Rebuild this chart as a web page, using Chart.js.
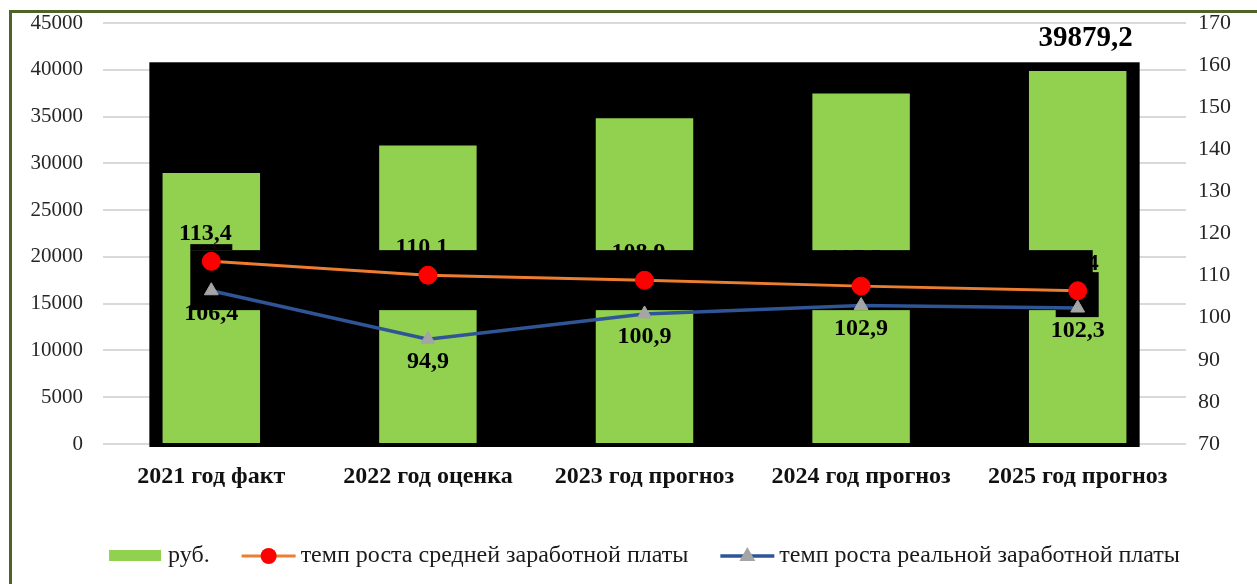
<!DOCTYPE html>
<html>
<head>
<meta charset="utf-8">
<script src="https://cdn.jsdelivr.net/npm/chart.js@4.4.0/dist/chart.umd.min.js"></script>
<style>
  html, body { margin: 0; padding: 0; background: #fff; }
  #wrap { position: relative; width: 1257px; height: 584px; }
</style>
</head>
<body>
<div id="wrap"><canvas id="salaryChart"></canvas></div>
<script>
// data
const categories = ['2021 год факт', '2022 год оценка', '2023 год прогноз', '2024 год прогноз', '2025 год прогноз'];
const salaryRub = [28978, 31905, 34820, 37460, 39879.2];
const avgGrowth = [113.4, 110.1, 108.9, 107.5, 106.4];
const realGrowth = [106.4, 94.9, 100.9, 102.9, 102.3];
const seriesNames = ['руб.', 'темп роста средней заработной платы', 'темп роста реальной заработной платы'];
const rubTicks = [0, 45000, 5000];   // min, max, step
const rateTicks = [70, 170, 10];

const FONT = "'Liberation Serif', 'Times New Roman', serif";
const fmt = v => String(v).replace('.', ',');

// green frame round the whole picture
const framePlugin = {
    id: 'frame',
    beforeDraw(chart) {
        const ctx = chart.ctx;
        ctx.save();
        ctx.strokeStyle = '#4f6228';
        ctx.lineWidth = 3;
        ctx.strokeRect(10.5, 11.5, chart.width + 20, chart.height + 20);
        ctx.restore();
    }
};

// black backdrop and masks that sit over the plot
const maskPlugin = {
    id: 'masks',
    beforeDatasetsDraw(chart) {
        const { ctx, chartArea } = chart;
        const x = chart.scales.x, y = chart.scales.y;
        const cw = x.getPixelForValue(1) - x.getPixelForValue(0);
        const left = x.getPixelForValue(0) - cw * 0.286;
        const right = x.getPixelForValue(4) + cw * 0.286;
        const top = y.getPixelForValue(40800);
        ctx.save();
        ctx.fillStyle = '#000';
        ctx.fillRect(left, top, right - left, chartArea.bottom + 3 - top);
        ctx.restore();
    },
    afterDatasetDraw(chart, args) {
        if (args.index !== 0) return;
        const ctx = chart.ctx;
        const x = chart.scales.x, y = chart.scales.y;
        const x0 = x.getPixelForValue(0), x4 = x.getPixelForValue(4);
        const yTop = y.getPixelForValue(20720), yBot = y.getPixelForValue(14310);
        ctx.save();
        ctx.fillStyle = '#000';
        ctx.fillRect(x0 - 21, yTop, (x4 + 15) - (x0 - 21), yBot - yTop);
        ctx.fillRect(x0 - 21, yTop - 6, 42, 6);
        ctx.fillRect(x4 - 22, yTop + 22, 43, yBot - yTop - 15);
        ctx.restore();
    }
};

// value labels
const labelPlugin = {
    id: 'valueLabels',
    afterDatasetsDraw(chart) {
        const ctx = chart.ctx;
        ctx.save();
        ctx.fillStyle = '#000';
        ctx.textAlign = 'center';
        ctx.textBaseline = 'middle';
        // only the last bar value can be seen
        const bars = chart.getDatasetMeta(0).data;
        const last = bars.length - 1;
        ctx.font = 'bold 29px ' + FONT;
        ctx.fillText(fmt(salaryRub[last]), bars[last].x + 8, bars[last].y - 32);

        ctx.font = 'bold 24px ' + FONT;
        chart.getDatasetMeta(1).data.forEach((p, i) => {
            ctx.fillText(fmt(avgGrowth[i]), p.x - 6, p.y - 27);
        });
        chart.getDatasetMeta(2).data.forEach((p, i) => {
            ctx.fillText(fmt(realGrowth[i]), p.x, p.y + 23);
        });
        ctx.restore();
    }
};

// legend drawn under the axis labels
const legendPlugin = {
    id: 'bottomLegend',
    afterDraw(chart) {
        const { ctx, chartArea } = chart;
        ctx.save();
        ctx.font = '24px ' + FONT;
        ctx.textBaseline = 'middle';
        const sw = 54, gapText = 5, gapItem = 32;
        const widths = seriesNames.map(n => ctx.measureText(n).width);
        let total = 0;
        widths.forEach((w, i) => { total += sw + gapText + w + (i < widths.length - 1 ? gapItem : 0); });
        let cx = (chartArea.left + chartArea.right) / 2 - total / 2;
        const cy = 556;
        seriesNames.forEach((name, i) => {
            if (i === 0) {
                ctx.fillStyle = '#92d050';
                ctx.fillRect(cx, cy - 6, sw - 2, 11);
            } else {
                const ds = chart.data.datasets[i];
                ctx.strokeStyle = ds.borderColor;
                ctx.lineWidth = ds.borderWidth;
                ctx.beginPath();
                ctx.moveTo(cx, cy);
                ctx.lineTo(cx + sw, cy);
                ctx.stroke();
                ctx.fillStyle = ds.pointBackgroundColor;
                ctx.beginPath();
                if (i === 1) {
                    ctx.arc(cx + sw / 2, cy, 8, 0, Math.PI * 2);
                } else {
                    ctx.moveTo(cx + sw / 2, cy - 9);
                    ctx.lineTo(cx + sw / 2 + 8, cy + 5);
                    ctx.lineTo(cx + sw / 2 - 8, cy + 5);
                    ctx.closePath();
                }
                ctx.fill();
            }
            cx += sw + gapText;
            ctx.fillStyle = '#1a1a1a';
            ctx.fillText(name, cx, cy);
            cx += widths[i] + gapItem;
        });
        ctx.restore();
    }
};

const ctx = document.getElementById('salaryChart').getContext('2d');
new Chart(ctx, {
    type: 'bar',
    data: {
        labels: categories,
        datasets: [{
            type: 'bar',
            label: seriesNames[0],
            data: salaryRub,
            backgroundColor: '#92d050',
            borderWidth: 0,
            barPercentage: 0.45,
            categoryPercentage: 1,
            yAxisID: 'y',
            order: 3
        }, {
            type: 'line',
            label: seriesNames[1],
            data: avgGrowth,
            borderColor: '#ed7d31',
            borderWidth: 3,
            pointRadius: 9,
            pointBackgroundColor: '#ff0000',
            pointBorderColor: '#ff0000',
            pointBorderWidth: 1,
            tension: 0,
            yAxisID: 'y1',
            order: 1
        }, {
            type: 'line',
            label: seriesNames[2],
            data: realGrowth,
            borderColor: '#2f5597',
            borderWidth: 3.5,
            pointStyle: 'triangle',
            pointRadius: 8,
            pointBackgroundColor: '#a5a5a5',
            pointBorderColor: '#a5a5a5',
            pointBorderWidth: 1,
            tension: 0,
            yAxisID: 'y1',
            order: 2
        }]
    },
    options: {
        responsive: true,
        maintainAspectRatio: false,
        animation: false,
        layout: { padding: { top: 23, left: 0, right: 0, bottom: 0 } },
        plugins: {
            legend: { display: false },
            tooltip: { enabled: false }
        },
        scales: {
            x: {
                grid: { display: false },
                border: { display: false },
                ticks: {
                    color: '#111',
                    padding: 10,
                    maxRotation: 0,
                    font: { family: FONT, size: 24, weight: 'bold' }
                },
                afterFit: s => { s.height = 140; }
            },
            y: {
                position: 'left',
                min: rubTicks[0],
                max: rubTicks[1],
                ticks: {
                    stepSize: rubTicks[2],
                    color: '#262626',
                    padding: 20,
                    font: { family: FONT, size: 21 },
                    callback: v => String(v)
                },
                grid: { color: '#d9d9d9', lineWidth: 2, drawTicks: false },
                border: { display: false },
                afterFit: s => { s.width = 103; s.paddingTop = 10; s.paddingBottom = 10; }
            },
            y1: {
                position: 'right',
                min: rateTicks[0],
                max: rateTicks[1],
                ticks: {
                    stepSize: rateTicks[2],
                    color: '#262626',
                    padding: 12,
                    font: { family: FONT, size: 22 },
                    callback: v => String(v)
                },
                grid: { display: false, drawTicks: false },
                border: { display: false },
                afterFit: s => { s.width = 71; s.paddingTop = 10; s.paddingBottom = 10; }
            }
        }
    },
    plugins: [framePlugin, maskPlugin, labelPlugin, legendPlugin]
});
</script>
</body>
</html>
